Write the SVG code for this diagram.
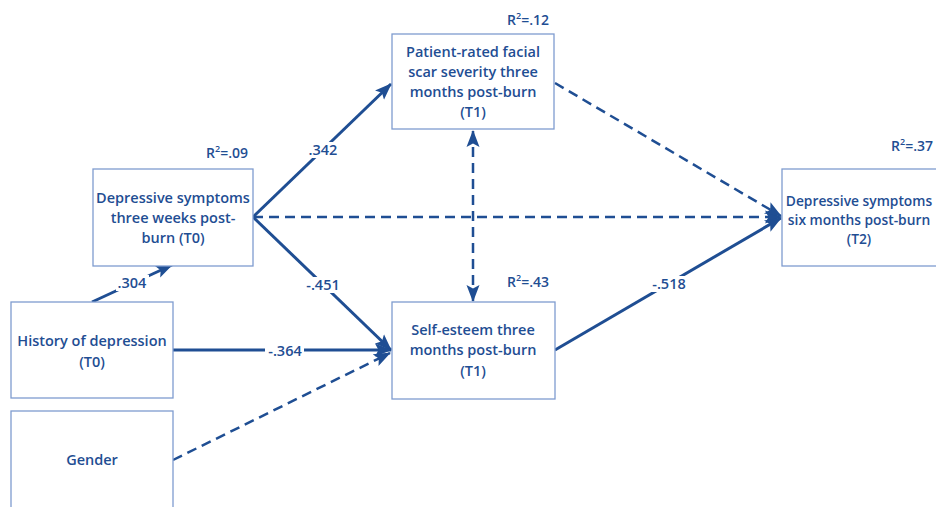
<svg xmlns="http://www.w3.org/2000/svg" width="936" height="507" viewBox="0 0 936 507">
<style>
.box{fill:#ffffff;stroke:#7f9ccf;stroke-width:1.3}
.t{font-family:"Open Sans","Liberation Sans",sans-serif;font-size:14.5px;font-weight:600;fill:#1f4e93;text-anchor:middle}
.t2{font-family:"Open Sans","Liberation Sans",sans-serif;font-size:13.8px;font-weight:600;fill:#1f4e93;text-anchor:middle}
.r{font-family:"Open Sans","Liberation Sans",sans-serif;font-size:14px;font-weight:600;fill:#1f4e93;text-anchor:end}
.solid{stroke:#1f4e93;stroke-width:3;fill:none}
.dash{stroke:#1f4e93;stroke-width:2.5;fill:none;stroke-dasharray:10 6}
.lbl{font-family:"Open Sans","Liberation Sans",sans-serif;font-size:14.5px;font-weight:600;fill:#1f4e93;text-anchor:middle}
.bg{fill:#ffffff}
</style>
<defs>
<marker id="ah" markerUnits="userSpaceOnUse" markerWidth="18" markerHeight="14" refX="16" refY="6.5" orient="auto-start-reverse" viewBox="0 0 18 13">
<path d="M0,0 L17,6.5 L0,13 L3.5,6.5 z" fill="#1f4e93"/>
</marker>
</defs>
<rect width="936" height="507" fill="#ffffff"/>

<g id="connectors">
<line class="solid" x1="92" y1="302" x2="172" y2="265" marker-end="url(#ah)"/>
<line class="solid" x1="253" y1="217" x2="391" y2="84" marker-end="url(#ah)"/>
<line class="solid" x1="253" y1="217" x2="391" y2="350" marker-end="url(#ah)"/>
<line class="dash" x1="253" y1="217" x2="781" y2="217" marker-end="url(#ah)"/>
<line class="solid" x1="173" y1="350" x2="391" y2="350" marker-end="url(#ah)"/>
<line class="dash" x1="173" y1="460" x2="390" y2="353" marker-end="url(#ah)"/>
<line class="dash" x1="473" y1="131" x2="473" y2="301" marker-start="url(#ah)" marker-end="url(#ah)"/>
<line class="dash" x1="555" y1="83" x2="781" y2="216" marker-end="url(#ah)"/>
<line class="solid" x1="555" y1="350" x2="781" y2="218" marker-end="url(#ah)"/>
<rect class="bg" x="116" y="275" width="33" height="16"/>
<text class="lbl" x="132" y="288">.304</text>
<rect class="bg" x="306" y="142" width="34" height="16"/>
<text class="lbl" x="323" y="155">.342</text>
<rect class="bg" x="304" y="277" width="38" height="16"/>
<text class="lbl" x="323" y="290">-.451</text>
<rect class="bg" x="265" y="343" width="39" height="16"/>
<text class="lbl" x="285" y="356">-.364</text>
<rect class="bg" x="650" y="276" width="39" height="16"/>
<text class="lbl" x="669" y="289">-.518</text>
</g>

<g id="node-facial">
<rect class="box" x="392" y="34" width="162" height="95"/>
<text class="t" x="473" y="57">Patient-rated facial</text>
<text class="t" x="473" y="77">scar severity three</text>
<text class="t" x="473" y="97">months post-burn</text>
<text class="t" x="473" y="117">(T1)</text>
<text class="r" x="549" y="25">R<tspan font-size="9" dy="-6">2</tspan><tspan dy="6">=.12</tspan></text>
</g>

<g id="node-dep-t0">
<rect class="box" x="93" y="169" width="160" height="97"/>
<text class="t" x="173" y="203">Depressive symptoms</text>
<text class="t" x="173" y="223">three weeks post-</text>
<text class="t" x="173" y="243">burn (T0)</text>
<text class="r" x="248" y="158">R<tspan font-size="9" dy="-6">2</tspan><tspan dy="6">=.09</tspan></text>
</g>

<g id="node-history">
<rect class="box" x="11" y="302" width="162" height="96"/>
<text class="t" x="92" y="346">History of depression</text>
<text class="t" x="92" y="367">(T0)</text>
</g>

<g id="node-gender">
<rect class="box" x="11" y="411" width="162" height="110"/>
<text class="t" x="92" y="465">Gender</text>
</g>

<g id="node-selfesteem">
<rect class="box" x="392" y="302" width="163" height="97"/>
<text class="t" x="473" y="335">Self-esteem three</text>
<text class="t" x="473" y="355">months post-burn</text>
<text class="t" x="473" y="376">(T1)</text>
<text class="r" x="549" y="287">R<tspan font-size="9" dy="-6">2</tspan><tspan dy="6">=.43</tspan></text>
</g>

<g id="node-dep-t2">
<rect class="box" x="782" y="169" width="166" height="97"/>
<text class="t2" x="859" y="206">Depressive symptoms</text>
<text class="t2" x="859" y="225">six months post-burn</text>
<text class="t2" x="859" y="244">(T2)</text>
<text class="r" x="933" y="151">R<tspan font-size="9" dy="-6">2</tspan><tspan dy="6">=.37</tspan></text>
</g>
</svg>
